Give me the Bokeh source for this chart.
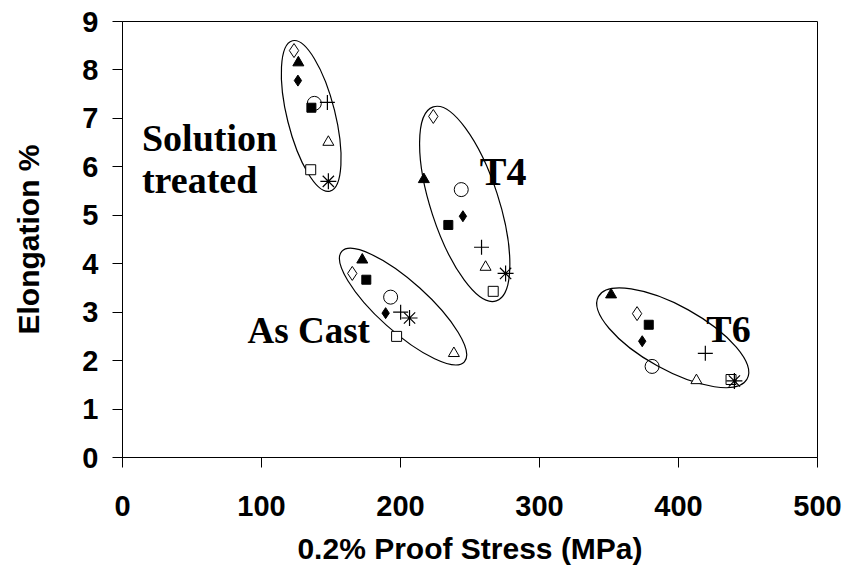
from bokeh.plotting import figure
from bokeh.models import FixedTicker, Label, Range1d
from bokeh.embed import file_html
from bokeh.resources import INLINE
import numpy as np

# ---------------- data ----------------
# order of every series: As Cast, Solution treated, T4, T6
conditions = ["As Cast", "Solution treated", "T4", "T6"]

open_diamond_x = [165.3, 123.4, 223.6, 370.2]
open_diamond_y = [3.80, 8.40, 7.04, 2.97]
filled_triangle_x = [172.5, 126.5, 216.8, 351.5]
filled_triangle_y = [4.08, 8.15, 5.74, 3.36]
filled_diamond_x = [189.3, 126.2, 244.9, 373.9]
filled_diamond_y = [2.98, 7.78, 4.98, 2.40]
filled_square_x = [175.4, 135.9, 234.4, 378.6]
filled_square_y = [3.67, 7.22, 4.80, 2.74]
open_circle_x = [192.9, 138.0, 243.7, 381.0]
open_circle_y = [3.31, 7.31, 5.53, 1.88]
plus_x = [200.1, 147.4, 258.3, 419.3]
plus_y = [3.00, 7.33, 4.34, 2.15]
open_triangle_x = [238.4, 148.1, 261.2, 412.9]
open_triangle_y = [2.15, 6.51, 3.93, 1.59]
open_square_x = [197.2, 135.4, 266.7, 437.8]
open_square_y = [2.50, 5.94, 3.43, 1.61]
asterisk_x = [206.5, 148.1, 275.6, 440.2]
asterisk_y = [2.88, 5.70, 3.80, 1.58]

x_ticks = [0, 100, 200, 300, 400, 500]
y_ticks = [0, 1, 2, 3, 4, 5, 6, 7, 8, 9]

# ---------------- figure ----------------
p = figure(width=846, height=569, x_range=Range1d(0, 500), y_range=Range1d(0, 9),
           output_backend="svg", toolbar_location=None,
           min_border_left=122, min_border_right=29, min_border_top=21, min_border_bottom=112)
p.background_fill_color = "white"
p.border_fill_color = "white"
p.outline_line_color = "black"
p.outline_line_width = 1
p.xgrid.grid_line_color = None
p.ygrid.grid_line_color = None

for ax in (p.xaxis[0], p.yaxis[0]):
    ax.axis_line_color = "black"
    ax.axis_line_width = 1
    ax.major_tick_line_color = "black"
    ax.major_tick_in = 0
    ax.major_tick_out = 10
    ax.minor_tick_line_color = None
    ax.major_label_text_font = "Liberation Sans"
    ax.major_label_text_font_style = "bold"
    ax.major_label_text_font_size = "29px"
    ax.major_label_text_color = "black"
    ax.axis_label_text_font = "Liberation Sans"
    ax.axis_label_text_font_style = "bold"
    ax.axis_label_text_color = "black"

p.xaxis.ticker = FixedTicker(ticks=x_ticks)
p.yaxis.ticker = FixedTicker(ticks=y_ticks)
p.xaxis.axis_label = "0.2% Proof Stress (MPa)"
p.yaxis.axis_label = "Elongation %"
p.xaxis.axis_label_text_font_size = "30px"
p.yaxis.axis_label_text_font_size = "30px"
p.xaxis.major_label_standoff = 28
p.yaxis.major_label_standoff = 14
p.xaxis.axis_label_standoff = 13
p.yaxis.axis_label_standoff = 34

# ---------------- ellipses grouping each condition ----------------
all_x = np.array([open_diamond_x, filled_triangle_x, filled_diamond_x, filled_square_x,
                  open_circle_x, plus_x, open_triangle_x, open_square_x, asterisk_x])
all_y = np.array([open_diamond_y, filled_triangle_y, filled_diamond_y, filled_square_y,
                  open_circle_y, plus_y, open_triangle_y, open_square_y, asterisk_y])
cx = (all_x.min(axis=0) + all_x.max(axis=0)) / 2
cy = (all_y.min(axis=0) + all_y.max(axis=0)) / 2
ell_major = [165, 155, 204, 170]
ell_minor = [50, 48, 68, 64]
ell_angle = np.radians([-42, 104, 108, -29])
p.ellipse(x=cx, y=cy, width=ell_major, height=ell_minor, angle=ell_angle,
          width_units="screen", height_units="screen",
          fill_color=None, line_color="black", line_width=1.2)

# ---------------- markers ----------------
p.scatter(open_diamond_x, open_diamond_y, marker="diamond", size=14,
          fill_color="white", line_color="black", line_width=1)
p.scatter(filled_triangle_x, filled_triangle_y, marker="triangle", size=11,
          fill_color="black", line_color="black")
p.scatter(filled_diamond_x, filled_diamond_y, marker="diamond", size=11,
          fill_color="black", line_color="black")
p.scatter(filled_square_x, filled_square_y, marker="square", size=9,
          fill_color="black", line_color="black")
p.scatter(open_circle_x, open_circle_y, marker="circle", size=14,
          fill_color=None, line_color="black", line_width=1)
p.scatter(plus_x, plus_y, marker="cross", size=15,
          line_color="black", line_width=1.2)
p.scatter(open_triangle_x, open_triangle_y, marker="triangle", size=11,
          fill_color="white", line_color="black", line_width=1)
p.scatter(open_square_x, open_square_y, marker="square", size=10,
          fill_color="white", line_color="black", line_width=1)
p.scatter(asterisk_x, asterisk_y, marker="asterisk", size=16,
          line_color="black", line_width=1.2)

# ---------------- condition labels ----------------
lab_font = "Liberation Serif"
labels = [
    ("Solution", 14.0, 6.59, "38px"),
    ("treated", 14.0, 5.73, "38px"),
    ("T4", 257.0, 5.90, "40px"),
    ("As Cast", 90.0, 2.63, "37px"),
    ("T6", 420.0, 2.66, "38px"),
]
for txt, lx, ly, fs in labels:
    p.add_layout(Label(x=lx, y=ly, text=txt, text_font=lab_font, text_font_style="bold",
                       text_font_size=fs, text_color="black",
                       text_align="left", text_baseline="alphabetic"))

open("out.html", "w").write(file_html(p, INLINE))
